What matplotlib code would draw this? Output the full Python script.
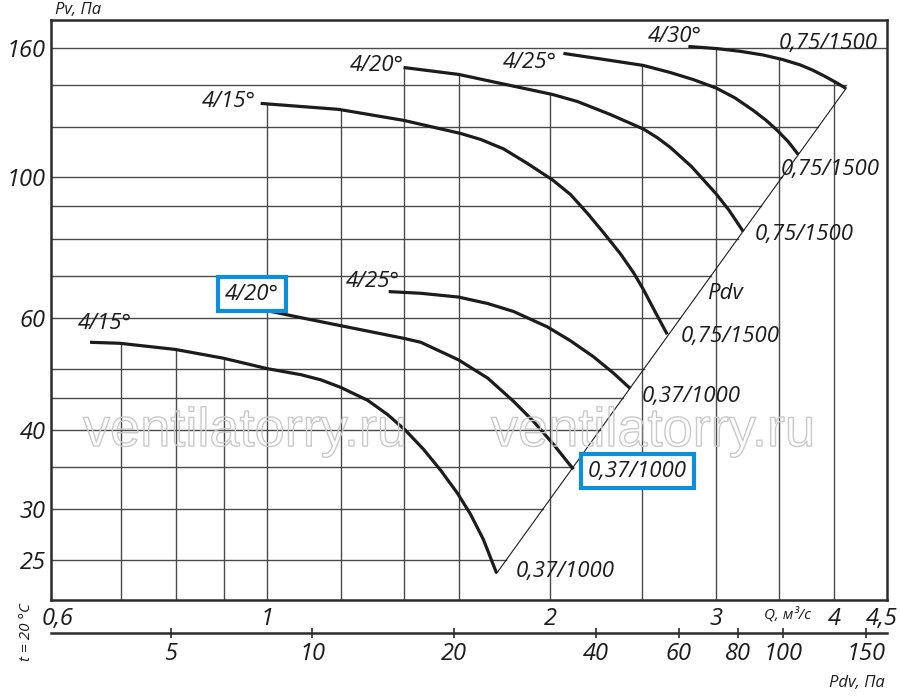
import numpy as np
import matplotlib

matplotlib.use("Agg")
import matplotlib.pyplot as plt
from matplotlib import patheffects
from matplotlib.ticker import NullLocator

# ---- curves: Q in m3/s, Pv in Pa ----
# motor 0,37/1000
q_15_low = [0.649, 0.698, 0.799, 0.900, 1.000, 1.087, 1.141, 1.198, 1.280, 1.344,
            1.404, 1.467, 1.529, 1.594, 1.645, 1.698, 1.754]
pv_15_low = [55.0, 54.8, 53.6, 51.9, 50.0, 48.9, 48.0, 46.7, 44.55, 42.3,
             39.95, 37.3, 34.6, 31.8, 29.5, 26.9, 23.8]
q_20_low = [0.934, 1.000, 1.095, 1.192, 1.397, 1.457, 1.598, 1.716, 1.828, 1.919, 2.015, 2.116]
pv_20_low = [62.7, 61.7, 60.0, 58.5, 55.8, 55.0, 51.6, 48.3, 44.4, 41.3, 38.0, 34.7]
q_25_low = [1.347, 1.457, 1.598, 1.716, 1.828, 1.986, 2.101, 2.222, 2.333, 2.432]
pv_25_low = [66.1, 65.7, 64.8, 63.3, 61.5, 58.15, 55.3, 52.2, 49.2, 46.5]
# motor 0,75/1500
q_15_up = [0.985, 1.192, 1.397, 1.606, 1.686, 1.784, 1.891, 2.011, 2.101, 2.190,
           2.277, 2.374, 2.451, 2.511, 2.586, 2.662]
pv_15_up = [130.8, 128.0, 123.0, 117.3, 114.8, 110.9, 105.2, 99.1, 94.0, 87.8,
            81.9, 75.8, 70.8, 66.6, 61.3, 56.6]
q_20_up = [1.397, 1.598, 2.011, 2.137, 2.317, 2.511, 2.598, 2.682, 2.823, 3.000, 3.097, 3.205]
pv_20_up = [149.0, 145.3, 135.1, 131.7, 125.6, 119.2, 115.5, 111.5, 104.1, 94.2, 88.7, 82.2]
q_25_up = [2.065, 2.261, 2.511, 2.682, 2.837, 3.000, 3.142, 3.285, 3.390, 3.483, 3.577, 3.666]
pv_25_up = [156.8, 153.7, 150.1, 146.3, 142.6, 138.3, 133.4, 127.5, 123.0, 118.6, 113.9, 108.7]
q_30_up = [2.803, 3.000, 3.182, 3.365, 3.526, 3.684, 3.793, 3.896, 4.012, 4.121]
pv_30_up = [160.8, 159.6, 158.0, 155.9, 153.4, 150.4, 147.7, 144.8, 141.4, 138.1]

angle_labels = ["4/15°", "4/20°", "4/25°", "4/15°", "4/20°", "4/25°", "4/30°"]
motor_labels = ["0,37/1000"] * 3 + ["0,75/1500"] * 4

# dynamic pressure line Pdv (through the curve ends)
diag_q = [1.754, 4.121]
diag_pv = [23.8, 138.1]

# axes
q_ticks = [0.6, 1, 2, 3, 4, 4.5]
q_tick_labels = ["0,6", "1", "2", "3", "4", "4,5"]
pv_ticks = [25, 30, 40, 60, 100, 160]
pv_tick_labels = ["25", "30", "40", "60", "100", "160"]
grid_q = [0.7, 0.8, 0.9, 1.0, 1.2, 1.4, 1.6, 2.0, 2.5, 3.0, 3.5, 4.0]
grid_pv = [25, 30, 35, 40, 45, 50, 60, 70, 80, 90, 100, 120, 140, 160]
pdv_ticks = [5, 10, 20, 40, 60, 80, 100, 150]
pdv_tick_labels = ["5", "10", "20", "40", "60", "80", "100", "150"]

# ---- styling ----
plt.rcParams["font.family"] = ["Open Sans", "DejaVu Sans"]
plt.rcParams["font.style"] = "italic"
INK = "#1c1c1c"
GRID = "#4a4a4a"
BLUE = "#0a8ee0"
XMIN, XMAX = 0.59, 4.555
YMIN, YMAX = 21.6, 177

curves = [
    (q_15_low, pv_15_low), (q_20_low, pv_20_low), (q_25_low, pv_25_low),
    (q_15_up, pv_15_up), (q_20_up, pv_20_up), (q_25_up, pv_25_up), (q_30_up, pv_30_up),
]
# label offsets in pixels (angle label from curve start, motor label from curve end)
start_offsets = [(15, 19), (13, 12), (-16, 10), (-32, 2), (-27, 2), (-34, -9), (-14, 10)]
end_offsets = [(69, 2), (64, -2), (61, -8), (63, -2), (61, -3), (32, -15), (-18, 45)]
boxed_start = [False, True, False, False, False, False, False]
boxed_end = [False, True, False, False, False, False, False]

fig = plt.figure(figsize=(9, 6.97), dpi=100)
ax = fig.add_axes([51 / 900, 1 - 600 / 697, 836 / 900, 580 / 697])
ax.set_xscale("log")
ax.set_yscale("log")
ax.set_xlim(XMIN, XMAX)
ax.set_ylim(YMIN, YMAX)


def loglog_at(q, qs, pvs):
    return 10 ** np.interp(np.log10(q), np.log10(qs), np.log10(pvs))


# vertical grid lines stop at the highest curve above them
for q in grid_q:
    tops = [loglog_at(q, qs, pvs) for qs, pvs in curves if qs[0] <= q <= qs[-1]]
    top = max(tops) if tops else YMAX
    ax.plot([q, q], [YMIN, top], color=GRID, lw=1.0, zorder=1)

# horizontal grid lines stop at the Pdv line
for pv in grid_pv:
    if pv > 1.05 * diag_pv[-1]:
        right = XMAX
    else:
        right = 10 ** np.interp(np.log10(pv), np.log10(diag_pv), np.log10(diag_q))
    ax.plot([XMIN, right], [pv, pv], color=GRID, lw=1.0, zorder=1)

ax.plot(diag_q, diag_pv, color=INK, lw=0.8, zorder=2)

for i, (qs, pvs) in enumerate(curves):
    ax.plot(qs, pvs, color=INK, lw=2.3, solid_capstyle="butt", solid_joinstyle="round",
            zorder=3)
    box = dict(boxstyle="square,pad=0.3", fc="white", ec=BLUE, lw=3)
    ax.annotate(angle_labels[i], (qs[0], pvs[0]), xytext=start_offsets[i],
                textcoords="offset pixels", ha="center", va="center",
                fontsize=16, color=INK, zorder=4,
                bbox=box if boxed_start[i] else None)
    ax.annotate(motor_labels[i], (qs[-1], pvs[-1]), xytext=end_offsets[i],
                textcoords="offset pixels", ha="center", va="center",
                fontsize=16, color=INK, zorder=4,
                bbox=box if boxed_end[i] else None)

ax.text(0.806, 0.529, "Pdv", transform=ax.transAxes, ha="center", va="center",
        fontsize=16, color=INK)

ax.set_xticks(q_ticks, labels=q_tick_labels)
ax.set_yticks(pv_ticks, labels=pv_tick_labels)
ax.xaxis.set_minor_locator(NullLocator())
ax.yaxis.set_minor_locator(NullLocator())
ax.tick_params(axis="x", length=0, pad=5, labelsize=17, labelcolor=INK)
ax.tick_params(axis="y", length=0, pad=4, labelsize=17, labelcolor=INK)
for sp in ax.spines.values():
    sp.set_linewidth(1.8)
    sp.set_color("#2b2b2b")

# second scale: dynamic pressure Pdv = 8 Q^2
sec = ax.secondary_xaxis(-33 / 580, functions=(lambda q: 8 * q ** 2,
                                                lambda p: np.sqrt(np.abs(p) / 8)))
sec.set_ticks(pdv_ticks, labels=pdv_tick_labels)
sec.xaxis.set_minor_locator(NullLocator())
sec.tick_params(direction="inout", length=6.5, width=1.2, pad=3, labelsize=17,
                labelcolor=INK, color="#2b2b2b")
sec.spines["bottom"].set_linewidth(1.8)
sec.spines["bottom"].set_color("#2b2b2b")

fig.text(78 / 900, 1 - 10 / 697, "Pv, Па", ha="center", va="center", fontsize=12, color=INK)
fig.text(787 / 900, 1 - 615 / 697, "Q, м³/с", ha="center", va="center", fontsize=11, color=INK)
fig.text(857 / 900, 1 - 683 / 697, "Pdv, Па", ha="center", va="center", fontsize=12, color=INK)
fig.text(27 / 900, 1 - 632 / 697, "t = 20 °C", ha="center", va="center", rotation=90,
         fontsize=11, color=INK)

# watermark
for cx in (245, 653):
    fig.text(cx / 900, 1 - 432 / 697, "ventilatorry.ru", ha="center", va="center",
             fontsize=39, family="Liberation Sans", style="normal", color="none",
             path_effects=[patheffects.Stroke(linewidth=1.0, foreground="#c9c9c9")],
             zorder=5)

fig.savefig("out.png", dpi=100)
